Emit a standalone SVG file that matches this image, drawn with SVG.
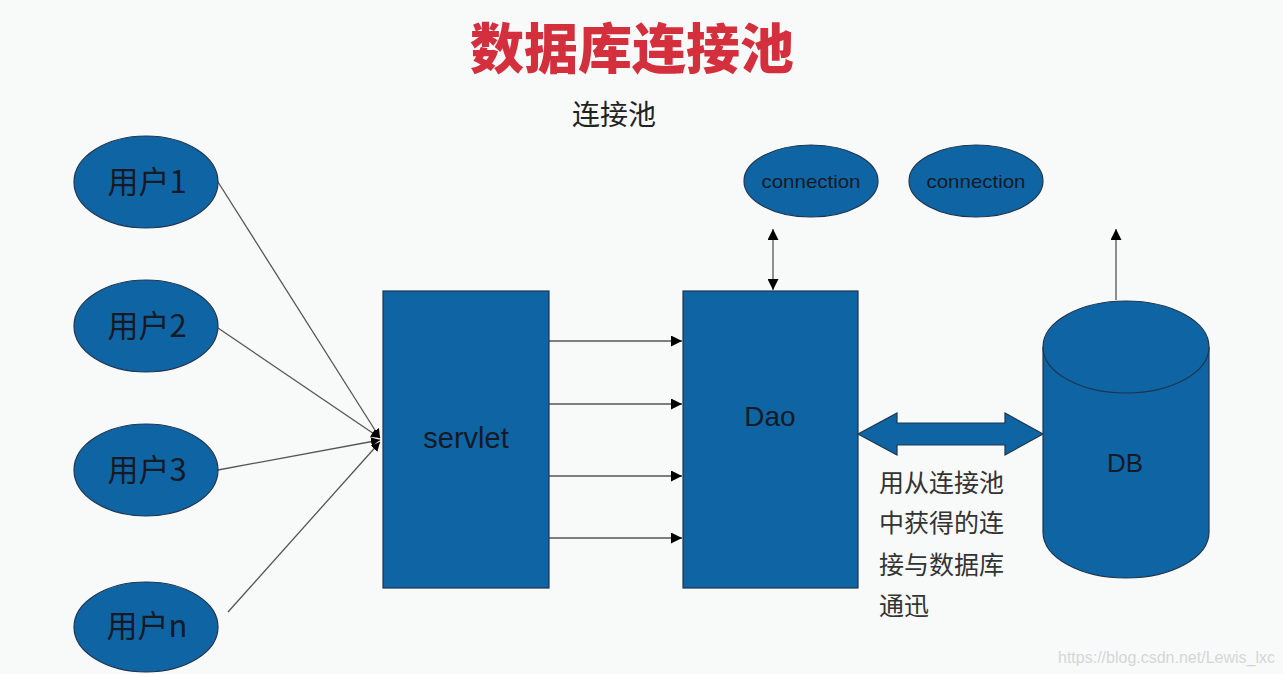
<svg xmlns="http://www.w3.org/2000/svg" width="1283" height="674" viewBox="0 0 1283 674">
<defs>
<style>
.node{fill:#0f65a3;stroke:#1d3550;stroke-width:1.2}
.lbl{font-family:"Liberation Sans","Noto Sans CJK SC",sans-serif;fill:#141a26;text-anchor:middle}
.cjk{font-family:"Noto Sans CJK SC","Liberation Sans",sans-serif}
.ln{stroke:#555;stroke-width:1.3;fill:none}
.note{font-family:"Noto Sans CJK SC",sans-serif;font-size:25px;fill:#333}
</style>
<marker id="ah" viewBox="0 0 10 10" refX="10" refY="5" markerWidth="9" markerHeight="9" orient="auto-start-reverse" markerUnits="userSpaceOnUse">
<path d="M0,0 L10,5 L0,10 z" fill="#000"/>
</marker>
<marker id="ah2" viewBox="0 0 10 10" refX="10" refY="5" markerWidth="11" markerHeight="11" orient="auto-start-reverse" markerUnits="userSpaceOnUse">
<path d="M0,0 L10,5 L0,10 z" fill="#000"/>
</marker>
</defs>
<rect width="1283" height="674" fill="#f8faf9"/>
<text x="632" y="69" font-family="Noto Sans CJK SC,sans-serif" font-weight="900" font-size="54" fill="#d42f3c" text-anchor="middle">数据库连接池</text>
<text x="614" y="125" font-family="Noto Sans CJK SC,sans-serif" font-size="28" fill="#222" text-anchor="middle">连接池</text>

<g id="connectors">
<line class="ln" x1="218" y1="182" x2="380" y2="438" marker-end="url(#ah)"/>
<line class="ln" x1="218" y1="328" x2="380" y2="438" marker-end="url(#ah)"/>
<line class="ln" x1="218" y1="470" x2="380" y2="440" marker-end="url(#ah)"/>
<line class="ln" x1="228" y1="612" x2="380" y2="442" marker-end="url(#ah)"/>
<line class="ln" x1="549" y1="341" x2="682" y2="341" marker-end="url(#ah2)"/>
<line class="ln" x1="549" y1="404" x2="682" y2="404" marker-end="url(#ah2)"/>
<line class="ln" x1="549" y1="476" x2="682" y2="476" marker-end="url(#ah2)"/>
<line class="ln" x1="549" y1="538" x2="682" y2="538" marker-end="url(#ah2)"/>
<line class="ln" x1="773" y1="229" x2="773" y2="290" marker-start="url(#ah2)" marker-end="url(#ah2)"/>
<line class="ln" x1="1116" y1="300" x2="1116" y2="229" marker-end="url(#ah2)"/>
<path id="bigarrow" class="node" d="M858,434 L897,413 L897,423 L1005,423 L1005,413 L1043,434 L1005,455 L1005,445 L897,445 L897,455 Z"/>
</g>

<g id="user1"><ellipse class="node" cx="146" cy="182" rx="72" ry="46"/><text class="lbl cjk" x="147" y="193" font-size="31">用户1</text></g>
<g id="user2"><ellipse class="node" cx="146" cy="326" rx="72" ry="46"/><text class="lbl cjk" x="147" y="337" font-size="31">用户2</text></g>
<g id="user3"><ellipse class="node" cx="146" cy="470" rx="72" ry="46"/><text class="lbl cjk" x="147" y="481" font-size="31">用户3</text></g>
<g id="usern"><ellipse class="node" cx="146" cy="627" rx="72" ry="45"/><text class="lbl cjk" x="147" y="637" font-size="31">用户n</text></g>

<g id="servlet"><rect class="node" x="383" y="291" width="166" height="297"/><text class="lbl" x="466" y="448" font-size="29">servlet</text></g>
<g id="dao"><rect class="node" x="683" y="291" width="175" height="297"/><text class="lbl" x="770" y="426" font-size="28">Dao</text></g>

<g id="conn1"><ellipse class="node" cx="811" cy="181" rx="67" ry="36"/><text class="lbl" x="811" y="188" font-size="19" textLength="99" lengthAdjust="spacingAndGlyphs">connection</text></g>
<g id="conn2"><ellipse class="node" cx="976" cy="181" rx="67" ry="36"/><text class="lbl" x="976" y="188" font-size="19" textLength="99" lengthAdjust="spacingAndGlyphs">connection</text></g>

<g id="db">
<path class="node" d="M1043,347 L1043,532 A83,46 0 0 0 1209,532 L1209,347"/>
<ellipse class="node" cx="1126" cy="347" rx="83" ry="46"/>
<text class="lbl" x="1125" y="472" font-size="26">DB</text>
</g>

<g id="note">
<text class="note" x="879" y="492">用从连接池</text>
<text class="note" x="879" y="532">中获得的连</text>
<text class="note" x="879" y="574">接与数据库</text>
<text class="note" x="879" y="615">通迅</text>
</g>
<text x="1058" y="663" font-family="Liberation Sans,sans-serif" font-size="16" fill="#d4d6d6">https://blog.csdn.net/Lewis_lxc</text>
</svg>
